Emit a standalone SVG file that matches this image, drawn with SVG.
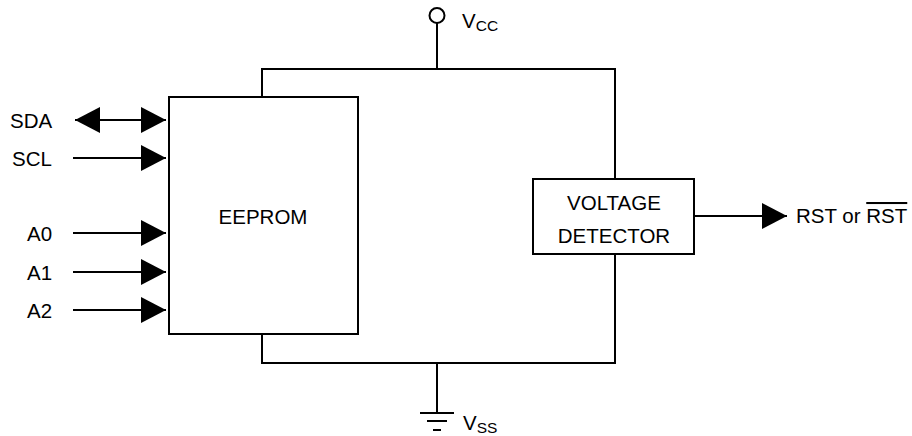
<svg xmlns="http://www.w3.org/2000/svg" width="912" height="436" viewBox="0 0 912 436">
<style>
.w{stroke:#000;stroke-width:2;fill:none}
.box{stroke:#000;stroke-width:2;fill:#fff}
.t{font-family:"Liberation Sans",Arial,sans-serif;font-size:20.5px;fill:#000}
.s{font-size:15.5px}
</style>
<defs>
<marker id="ah" markerUnits="userSpaceOnUse" markerWidth="25" markerHeight="26" refX="25" refY="13" orient="auto-start-reverse">
<path d="M0,0 L25,13 L0,26 z" fill="#000"/>
</marker>
</defs>
<rect width="912" height="436" fill="#fff"/>
<g id="connectors">
<path class="w" d="M262,97 V69 H615 V179"/>
<path class="w" d="M615,254 V363 H262 V334"/>
<path class="w" d="M437,23 V69"/>
<path class="w" d="M437,363 V413"/>
<line class="w" x1="75" y1="120" x2="166" y2="120" marker-start="url(#ah)" marker-end="url(#ah)"/>
<line class="w" x1="73" y1="158" x2="166" y2="158" marker-end="url(#ah)"/>
<line class="w" x1="73" y1="233" x2="166" y2="233" marker-end="url(#ah)"/>
<line class="w" x1="73" y1="272" x2="166" y2="272" marker-end="url(#ah)"/>
<line class="w" x1="73" y1="310" x2="166" y2="310" marker-end="url(#ah)"/>
<line class="w" x1="694" y1="216" x2="787" y2="216" marker-end="url(#ah)"/>
</g>
<g id="vcc">
<circle class="box" cx="437" cy="15.5" r="7.5"/>
<text class="t" x="462" y="28">V<tspan class="s" dy="3">CC</tspan></text>
</g>
<g id="vss">
<path class="w" d="M420,413 H454 M427,421 H447 M433,430 H441"/>
<text class="t" x="463" y="430">V<tspan class="s" dy="3">SS</tspan></text>
</g>
<g id="eeprom">
<rect class="box" x="169" y="97" width="189" height="237"/>
<text class="t" x="263" y="224" text-anchor="middle">EEPROM</text>
</g>
<g id="detector">
<rect class="box" x="533" y="179" width="161" height="75"/>
<text class="t" x="614" y="210" text-anchor="middle">VOLTAGE</text>
<text class="t" x="614" y="243" text-anchor="middle">DETECTOR</text>
</g>
<g id="labels">
<text class="t" x="10" y="128">SDA</text>
<text class="t" x="12" y="166">SCL</text>
<text class="t" x="27" y="241">A0</text>
<text class="t" x="27" y="280">A1</text>
<text class="t" x="27" y="318">A2</text>
<text class="t" x="796" y="223">RST or <tspan text-decoration="overline">RST</tspan></text>
</g>
</svg>
